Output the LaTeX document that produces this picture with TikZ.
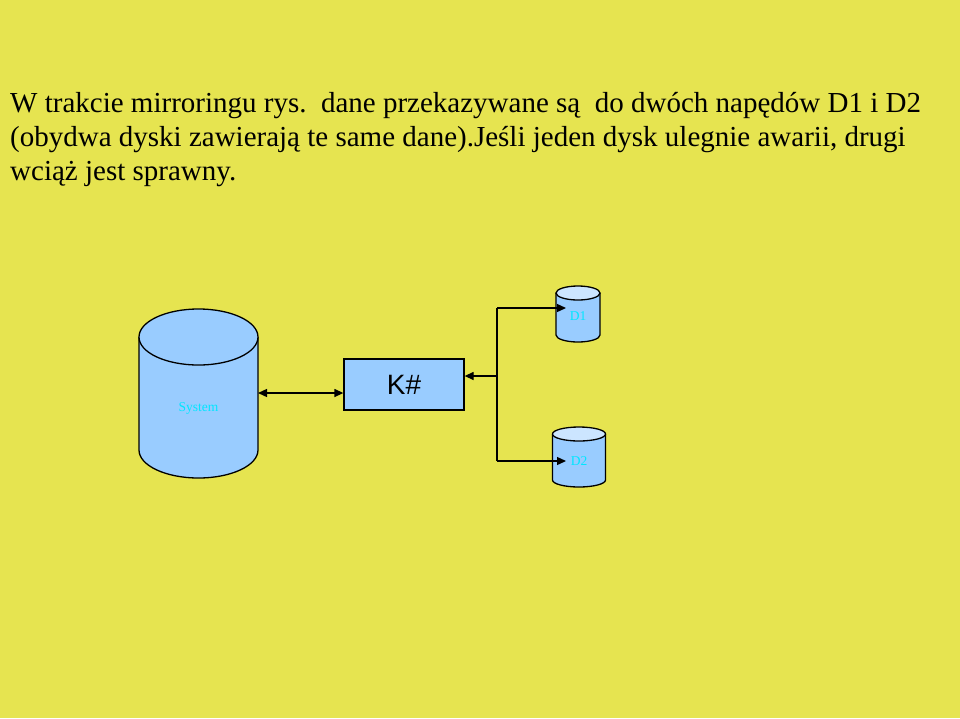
\documentclass[tikz,border=0pt]{standalone}
\usepackage{fontspec}
\setmainfont{Liberation Serif}
\newfontfamily\arialfont{Liberation Sans}
\usetikzlibrary{arrows.meta}
\definecolor{bgyellow}{RGB}{230,228,80}
\definecolor{cylblue}{RGB}{153,204,255}
\definecolor{cyltop}{RGB}{204,229,255}
\definecolor{labcyan}{RGB}{0,230,255}
\tikzset{
  cyl/.style={fill=cylblue, draw=black, line width=1.3pt},
  cyltopfill/.style={fill=cyltop, draw=black, line width=1.3pt},
  lab/.style={text=labcyan, font=\fontsize{13.5}{15}\selectfont, inner sep=0pt},
  conn/.style={draw=black, line width=1.3pt},
  tip/.style={-{Triangle[length=9pt,width=8pt]}},
  para/.style={anchor=base west, inner sep=0pt, font=\fontsize{29}{34}\selectfont}
}
\begin{document}
\begin{tikzpicture}[x=1pt,y=-1pt]
\fill[bgyellow] (0,0) rectangle (960,718);
\useasboundingbox (0,0) rectangle (960,718);
% text
\node[para] (l1) at (10,112) {W trakcie mirroringu rys.\ \ dane przekazywane są\ \ do dwóch napędów D1 i D2};
\node[para] (l2) at (10,146) {(obydwa dyski zawierają te same dane).Jeśli jeden dysk ulegnie awarii, drugi};
\node[para] (l3) at (10,180) {wciąż jest sprawny.};
% big cylinder
\path[cyl] (139,337) -- (139,450) arc[start angle=180,end angle=0,x radius=59.5,y radius=28] -- (258,337);
\path[cyl] (198.5,337) ellipse[x radius=59.5,y radius=28];
\node[lab] (sys) at (198.5,408) {System};
\coordinate (sysR) at (258,393);
% K# box
\node[draw=black, fill=cylblue, line width=1.3pt, minimum width=120pt, minimum height=51pt, inner sep=0pt, font=\arialfont\fontsize{28}{32}\selectfont] (k) at (404,384.5) {K\#};
% D1
\path[cyl] (556,293) -- (556,335) arc[start angle=180,end angle=0,x radius=22,y radius=7] -- (600,293);
\path[cyltopfill] (578,293) ellipse[x radius=22,y radius=7];
\node[lab] (d1) at (578,316) {D1};
% D2
\path[cyl] (552.5,434) -- (552.5,480) arc[start angle=180,end angle=0,x radius=26.5,y radius=7] -- (605.5,434);
\path[cyltopfill] (579,434) ellipse[x radius=26.5,y radius=7];
\node[lab] (d2) at (579,461) {D2};
% connectors
\coordinate (j) at (497,376);
\coordinate (jt) at (497,308);
\coordinate (jb) at (497,461);
\coordinate (d1in) at (566,308);
\coordinate (d2in) at (566,461);
\draw[conn, {Triangle[length=9pt,width=8pt]}-{Triangle[length=9pt,width=8pt]}] (sysR) -- (k.west |- sysR);
\draw[conn, tip] (j) -- (k.east |- j);
\draw[conn, tip] (jt) -- (d1in);
\draw[conn] (jt) -- (jb);
\draw[conn, tip] (jb) -- (d2in);
\end{tikzpicture}
\end{document}
